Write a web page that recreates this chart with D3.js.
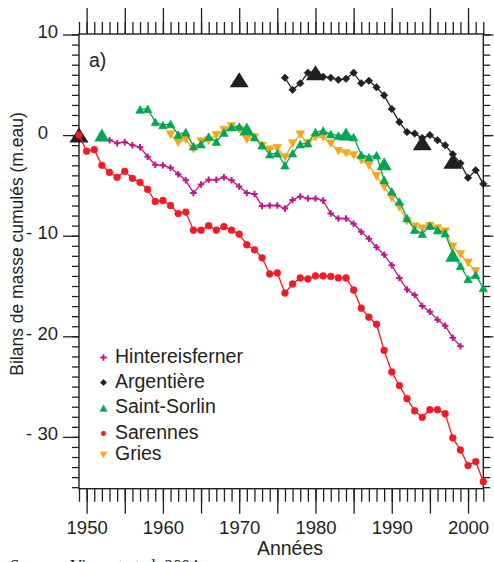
<!DOCTYPE html>
<html>
<head>
<meta charset="utf-8">
<script src="https://cdn.jsdelivr.net/npm/d3@7"></script>
<style>
  html, body { margin: 0; padding: 0; background: #fff; overflow: hidden; }
  text { font-family: "Liberation Sans", Arial, sans-serif; fill: #231f20; }
</style>
</head>
<body>
<div id="chart"></div>
<script>
var width = 494
var height = 562

// cumulated mass balance (m w.e.)
var hintYears = d3.range(1953, 2000)
var hintValues = [-0.5, -0.8, -0.7, -1.0, -1.2, -2.15, -2.95, -3.0, -3.25, -3.9,
    -4.5, -5.75, -4.9, -4.45, -4.45, -4.2, -4.5, -5.1, -5.75, -5.85,
    -7.05, -7.0, -7.0, -7.3, -6.45, -6.1, -6.3, -6.3, -6.5, -7.8,
    -8.3, -8.3, -8.8, -9.6, -10.3, -11.15, -11.9, -12.95, -14.2, -15.35,
    -15.9, -17.0, -17.55, -18.35, -18.95, -20.15, -21.0]

var argYears = d3.range(1976, 2003)
var argValues = [5.7, 4.5, 5.15, 6.2, 6.3, 5.8, 5.7, 5.5, 5.6, 6.2,
    5.15, 5.4, 4.75, 3.95, 2.6, 1.3, 0.3, 0.15, -0.3, 0.0,
    -0.5, -1.0, -1.9, -2.8, -4.25, -3.5, -4.85]

var sorlinYears = d3.range(1957, 2003)
var sorlinValues = [2.55, 2.6, 1.3, 1.0, 1.1, 0.05, 0.3, -1.1, -0.9, -0.15,
    -0.65, 0.25, 0.8, 0.85, 0.6, -0.2, -1.0, -1.9, -1.8, -3.0,
    -1.8, -0.9, -0.8, 0.3, 0.45, 0.1, -0.05, 0.1, -0.2, -1.95,
    -2.2, -2.0, -4.45, -5.6, -6.6, -8.25, -9.4, -9.8, -9.0, -9.45,
    -9.75, -11.8, -13.0, -14.3, -13.9, -15.2]

var sarYears = d3.range(1949, 2003)
var sarValues = [0, -1.6, -1.45, -3.0, -3.7, -4.2, -3.6, -4.3, -4.7, -5.4,
    -6.6, -6.5, -7.0, -7.8, -7.65, -9.45, -9.45, -9.0, -9.45, -9.1,
    -9.45, -9.85, -10.9, -11.4, -12.2, -13.8, -13.7, -15.7, -14.8, -14.2,
    -14.3, -14.0, -14.0, -14.05, -14.2, -14.2, -15.4, -17.2, -18.1, -18.8,
    -21.4, -23.55, -24.9, -26.2, -27.4, -28.05, -27.3, -27.3, -27.7, -30.1,
    -31.3, -32.85, -32.45, -34.45]

var griesYears = d3.range(1961, 2002)
var griesValues = [0.05, -0.75, -0.45, -1.4, -0.65, -0.55, -0.02, 0.5, 0.88, 0.55,
    -0.45, -0.25, -1.1, -1.45, -1.3, -2.2, -0.85, 0.05, -0.85, -0.2,
    -0.2, -0.85, -1.6, -1.8, -2.0, -2.5, -3.0, -4.1, -5.15, -6.25,
    -7.2, -8.55, -9.1, -9.3, -9.05, -9.3, -9.6, -11.1, -11.85, -12.7,
    -13.55]

// big triangles (geodetic values)
var argGeoYears = [1949, 1970, 1980, 1994, 1998]
var argGeoValues = [0, 5.5, 6.2, -0.75, -2.6]
var sorlinGeoYears = [1952, 1971, 1984, 1989, 1998]
var sorlinGeoValues = [0, 0.6, 0.1, -2.85, -11.95]

var legendNames = ["Hintereisferner", "Argentière", "Saint-Sorlin", "Sarennes", "Gries"]
var legendShapes = ["cross", "diamond", "up", "circle", "down"]
var legendColors = ["#c0168c", "#231f20", "#00a651", "#ee1c25", "#f8a51b"]

var yLabelTicks = [-30, -20, -10, 0, 10]

var svg = d3.select("#chart")
    .append("svg")
    .attr("width", width)
    .attr("height", height)

var x = d3.scaleLinear()
    .domain([1949, 2002])
    .range([79, 483.3])

var y = d3.scaleLinear()
    .domain([-35.15, 10.05])
    .range([488.7, 34])

var ink = "#231f20"

function shapePath(type, s) {
    var h = s / 2
    if (type == "cross") return "M" + (-h) + ",0H" + h + "M0," + (-h) + "V" + h
    if (type == "diamond") return "M0," + (-h) + "L" + h + ",0L0," + h + "L" + (-h) + ",0Z"
    if (type == "up") return "M0," + (-h * 0.9) + "L" + h + "," + (h * 0.9) + "L" + (-h) + "," + (h * 0.9) + "Z"
    if (type == "down") return "M0," + (h * 0.9) + "L" + h + "," + (-h * 0.9) + "L" + (-h) + "," + (-h * 0.9) + "Z"
    return d3.symbol(d3.symbolCircle, s * s * 0.785)()
}

function drawMarkers(g, pts, type, color, s) {
    g.selectAll("path.m")
        .data(pts)
        .enter()
        .append("path")
        .attr("class", "m")
        .attr("transform", function(d) { return "translate(" + x(d[0]) + "," + y(d[1]) + ")" })
        .attr("d", shapePath(type, s))
        .attr("fill", type == "cross" ? "none" : color)
        .attr("stroke", color)
        .attr("stroke-width", type == "cross" ? 2 : 0.6)
}

function drawSeries(years, values, type, color, s) {
    var pts = years.map(function(yr, i) { return [yr, values[i]] })
    var g = svg.append("g")
    g.append("path")
        .datum(pts)
        .attr("fill", "none")
        .attr("stroke", color)
        .attr("stroke-width", 1.3)
        .attr("d", d3.line().x(function(d) { return x(d[0]) }).y(function(d) { return y(d[1]) }))
    drawMarkers(g, pts, type, color, s)
}

function drawBig(years, values, color, w, h) {
    svg.append("g")
        .selectAll("path")
        .data(years.map(function(yr, i) { return [yr, values[i]] }))
        .enter()
        .append("path")
        .attr("transform", function(d) { return "translate(" + x(d[0]) + "," + y(d[1]) + ")" })
        .attr("d", "M0," + (-h / 2) + "L" + (w / 2) + "," + (h / 2) + "L" + (-w / 2) + "," + (h / 2) + "Z")
        .attr("fill", color)
}

// axes: minor ticks every year / every unit, long ticks every 5 years / 10 units
function styleAxis(g) {
    g.selectAll("line").attr("stroke", ink).attr("stroke-width", 1.3)
    g.select(".domain").remove()
    g.selectAll("text")
        .style("font-size", "18.5px")
        .style("font-family", "'Liberation Sans', Arial, sans-serif")
        .attr("fill", ink)
}

var minorYears = d3.range(1949, 2003)
var majorYears = d3.range(1950, 2001, 5)
var minorVals = d3.range(-35, 11)

svg.append("g").attr("transform", "translate(0," + y.range()[0] + ")")
    .call(d3.axisBottom(x).tickValues(minorYears).tickSize(13).tickFormat(""))
    .call(styleAxis)
svg.append("g").attr("transform", "translate(0," + y.range()[0] + ")")
    .call(d3.axisBottom(x).tickValues(majorYears).tickSize(25).tickPadding(7)
        .tickFormat(function(d) { return d % 10 == 0 ? d : "" }))
    .call(styleAxis)

svg.append("g").attr("transform", "translate(0," + y.range()[1] + ")")
    .call(d3.axisTop(x).tickValues(minorYears).tickSize(12).tickFormat(""))
    .call(styleAxis)
svg.append("g").attr("transform", "translate(0," + y.range()[1] + ")")
    .call(d3.axisTop(x).tickValues(majorYears).tickSize(26).tickFormat(""))
    .call(styleAxis)

svg.append("g").attr("transform", "translate(" + x.range()[0] + ",0)")
    .call(d3.axisLeft(y).tickValues(minorVals).tickSize(7).tickFormat(""))
    .call(styleAxis)
var leftMajor = svg.append("g").attr("transform", "translate(" + x.range()[0] + ",0)")
    .call(d3.axisLeft(y).tickValues(yLabelTicks).tickSize(16).tickPadding(5)
        .tickFormat(function(d) { return d < 0 ? "- " + (-d) : d }))
    .call(styleAxis)
leftMajor.selectAll("text")
    .attr("dy", "0.16em")
    .attr("x", function(d) { return d == 0 ? -31 : -21 })

svg.append("g").attr("transform", "translate(" + x.range()[1] + ",0)")
    .call(d3.axisRight(y).tickValues(minorVals).tickSize(7).tickFormat(""))
    .call(styleAxis)
svg.append("g").attr("transform", "translate(" + x.range()[1] + ",0)")
    .call(d3.axisRight(y).tickValues(yLabelTicks).tickSize(10).tickFormat(""))
    .call(styleAxis)

// frame
svg.append("rect")
    .attr("x", x.range()[0])
    .attr("y", y.range()[1])
    .attr("width", x.range()[1] - x.range()[0])
    .attr("height", y.range()[0] - y.range()[1])
    .attr("fill", "none")
    .attr("stroke", ink)
    .attr("stroke-width", 1.4)

// series
drawSeries(hintYears, hintValues, "cross", legendColors[0], 6.5)
drawSeries(argYears, argValues, "diamond", legendColors[1], 7.5)
drawBig(argGeoYears, argGeoValues, legendColors[1], 19, 15)
drawSeries(griesYears, griesValues, "down", legendColors[4], 8.5)
drawSeries(sorlinYears, sorlinValues, "up", legendColors[2], 8.5)
drawBig(sorlinGeoYears, sorlinGeoValues, legendColors[2], 15, 13)
drawSeries(sarYears, sarValues, "circle", legendColors[3], 6.8)

// legend
var legendBase = [362.5, 387.5, 413, 438.5, 460]
var legendSize = [6.5, 6.5, 7.5, 4.8, 7]
var legend = svg.append("g")
legendNames.forEach(function(name, i) {
    legend.append("path")
        .attr("transform", "translate(103.5," + (legendBase[i] - 5) + ")")
        .attr("d", shapePath(legendShapes[i], legendSize[i]))
        .attr("fill", legendShapes[i] == "cross" ? "none" : legendColors[i])
        .attr("stroke", legendColors[i])
        .attr("stroke-width", legendShapes[i] == "cross" ? 1.8 : 0.3)
    legend.append("text")
        .attr("x", 115)
        .attr("y", legendBase[i])
        .style("font-size", "19.5px")
        .text(name)
})

svg.append("text")
    .attr("x", 89)
    .attr("y", 67)
    .style("font-size", "19.5px")
    .text("a)")

svg.append("text")
    .attr("x", 290)
    .attr("y", 555)
    .attr("text-anchor", "middle")
    .style("font-size", "19.5px")
    .text("Années")

svg.append("text")
    .attr("transform", "translate(23,244) rotate(-90)")
    .attr("text-anchor", "middle")
    .style("font-size", "17.5px")
    .text("Bilans de masse cumulés (m.eau)")

svg.append("text")
    .attr("x", 10)
    .attr("y", 571)
    .style("font-family", "'Liberation Serif', serif")
    .style("font-size", "17px")
    .text("Source : Vincent et al. 2004")
</script>
</body>
</html>
